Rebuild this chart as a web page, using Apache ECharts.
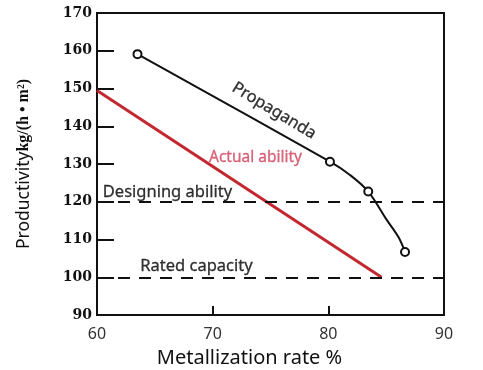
<!DOCTYPE html>
<html><head><meta charset="utf-8">
<script src="https://cdn.jsdelivr.net/npm/echarts@6/dist/echarts.min.js"></script>
<style>html,body{margin:0;padding:0;background:#fff}#c{width:483px;height:370px}</style>
</head><body><div id="c"></div>
<script>
const xTicks = [60, 70, 80, 90];
const yTicks = [90, 100, 110, 120, 130, 140, 150, 160, 170];
const propagandaX = [63.5, 80.14, 81.87, 83.45, 85.05, 86.05, 86.63];
const propagandaY = [159.1, 130.6, 127.1, 122.7, 115.2, 110.7, 106.7];
const propagandaMarked = [true, true, false, true, false, false, true];
const actualX = [60, 84.6];
const actualY = [149.5, 100];
const refLevels = [120, 100];
const annoNames = ['Propaganda', 'Actual ability', 'Designing ability', 'Rated capacity'];
const annoX = [75.3, 73.7, 60.5, 68.6];
const annoY = [144.1, 131.6, 122.6, 103.0];

const chart = echarts.init(document.getElementById('c'), null, {renderer: 'canvas'});
const sans = 'Noto Sans';
const annoStyles = [
  {color: '#000', fontSize: 16.5, rotate: -31, align: 'center'},
  {color: '#d0405a', fontSize: 15.5, rotate: 0, align: 'center'},
  {color: '#000', fontSize: 16.5, rotate: 0, align: 'left'},
  {color: '#000', fontSize: 16.5, rotate: 0, align: 'center'}
];
chart.setOption({
  animation: false,
  grid: {left: 97, right: 39, top: 13, bottom: 55, show: true, borderColor: '#111', borderWidth: 2,
    outerBoundsMode: 'none', containLabel: false},
  xAxis: {
    type: 'value', min: 60, max: 90, interval: 10,
    name: 'Metallization rate %', nameLocation: 'middle', nameGap: 33,
    nameTextStyle: {fontFamily: sans, fontSize: 20, color: '#111', padding: [0, 42, 0, 0]},
    axisLine: {show: true, lineStyle: {color: '#111', width: 2}},
    axisTick: {show: true, inside: true, length: 9, lineStyle: {color: '#111', width: 2}},
    axisLabel: {fontFamily: sans, fontSize: 16, color: '#333', margin: 11,
      formatter: v => xTicks.includes(v) ? String(v) : ''},
    splitLine: {show: false}
  },
  yAxis: {
    type: 'value', min: 90, max: 170, interval: 10,
    name: '{a|Productivity}{b|kg/(h • m²)}', nameLocation: 'middle', nameGap: 64,
    nameTextStyle: {rich: {
      a: {fontFamily: sans, fontSize: 17.5, color: '#111'},
      b: {fontFamily: 'Liberation Serif', fontWeight: 'bold', fontSize: 16, color: '#111'}
    }},
    axisLine: {show: true, lineStyle: {color: '#111', width: 2}},
    axisTick: {show: true, inside: true, length: 17, lineStyle: {color: '#111', width: 2}},
    axisLabel: {fontFamily: 'DejaVu Serif', fontWeight: 'bold', fontSize: 14, color: '#111', margin: 5,
      formatter: v => yTicks.includes(v) ? String(v) : ''},
    splitLine: {show: false}
  },
  series: [
    {
      type: 'line', data: actualX.map((x, i) => [x, actualY[i]]),
      symbol: 'none', lineStyle: {color: '#c3272f', width: 3}, z: 3,
      markLine: {
        silent: true, symbol: 'none', label: {show: false},
        lineStyle: {color: '#111', width: 2, type: [12, 9]},
        data: refLevels.map(v => ({yAxis: v}))
      }
    },
    {
      type: 'line',
      data: propagandaX.map((x, i) => ({value: [x, propagandaY[i]], symbol: propagandaMarked[i] ? 'emptyCircle' : 'none'})),
      smooth: 0.35,
      symbol: 'emptyCircle', symbolSize: 8, showAllSymbol: true,
      itemStyle: {color: '#111', borderColor: '#111', borderWidth: 1.6},
      lineStyle: {color: '#111', width: 2}, z: 4
    },
    {
      type: 'scatter', symbolSize: 0, z: 5,
      data: annoNames.map((n, i) => ({
        name: n, value: [annoX[i], annoY[i]],
        label: {show: true, position: [0, 0], formatter: '{b}', fontFamily: sans,
          color: annoStyles[i].color, fontSize: annoStyles[i].fontSize,
          textBorderColor: annoStyles[i].color, textBorderWidth: 0.3,
          rotate: annoStyles[i].rotate, align: annoStyles[i].align, verticalAlign: 'middle'}
      }))
    }
  ]
});
</script></body></html>
